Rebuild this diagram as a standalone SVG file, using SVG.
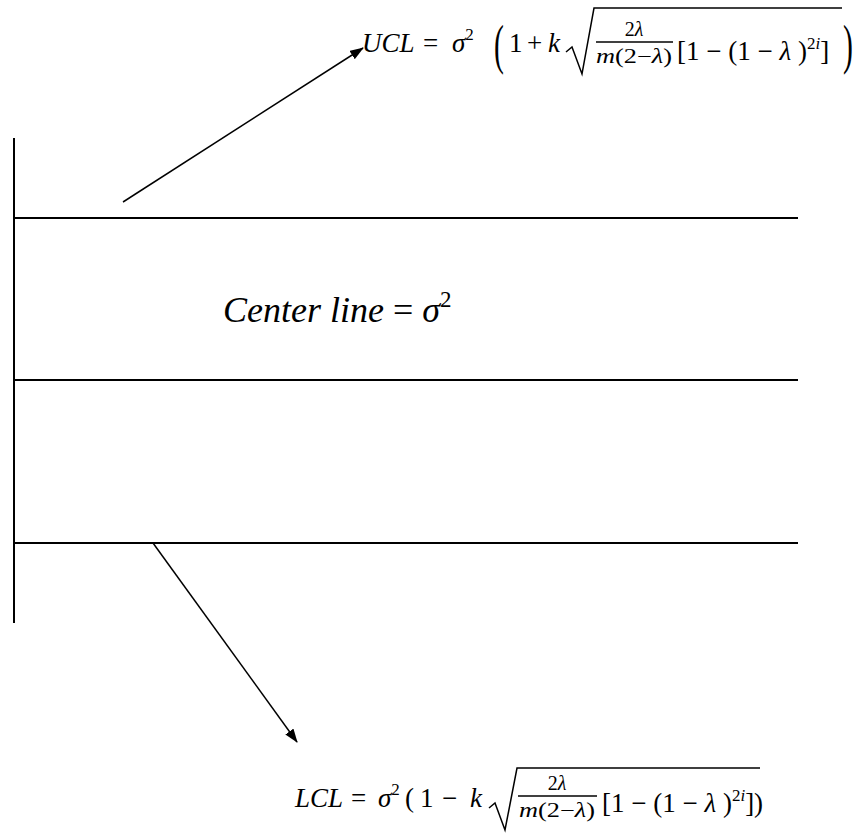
<svg xmlns="http://www.w3.org/2000/svg" width="861" height="833" viewBox="0 0 861 833">
<defs>
<style>
.ln{stroke:#000;stroke-width:2;fill:none}
.ar{stroke:#000;stroke-width:1.5;fill:none}
.t{font-family:"Liberation Serif","DejaVu Serif",serif;fill:#000}
.i{font-style:italic}
.m{font-size:27px}
.f{font-size:20px}
.s{font-size:17px}
.bp{font-size:54px}
</style>
<marker id="ah" viewBox="0 0 14 10" refX="13" refY="5" markerWidth="14" markerHeight="10" markerUnits="userSpaceOnUse" orient="auto">
<path d="M0,0 L14,5 L0,10 z" fill="#000"/>
</marker>
</defs>
<g id="axes">
<line class="ln" x1="14" y1="138" x2="14" y2="623"/>
<line class="ln" x1="14" y1="218" x2="798" y2="218"/>
<line class="ln" x1="14" y1="380" x2="798" y2="380"/>
<line class="ln" x1="14" y1="543" x2="798" y2="543"/>
</g>
<g id="connectors">
<line class="ar" x1="123" y1="202" x2="363" y2="48" marker-end="url(#ah)"/>
<line class="ar" x1="153" y1="543" x2="297" y2="742" marker-end="url(#ah)"/>
</g>
<g id="ucl">
<text class="t m" y="52"><tspan class="i" x="362">UCL</tspan><tspan x="423">=</tspan><tspan class="i" x="452">σ</tspan><tspan class="s" dy="-12">2</tspan></text>
<text class="t bp" transform="translate(494,63) scale(0.55,1)">(</text>
<text class="t m" y="52"><tspan x="509">1</tspan><tspan x="527">+</tspan><tspan class="i" x="548">k</tspan></text>
<path class="ar" d="M566,52 L572,47 L582,74 L594,8 L842,8"/>
<text class="t f" text-anchor="middle" x="634" y="36">2<tspan class="i">λ</tspan></text>
<line class="ar" x1="596" y1="42" x2="673" y2="42"/>
<text class="t f" x="596" y="63" textLength="76" lengthAdjust="spacingAndGlyphs"><tspan class="i">m</tspan>(2−<tspan class="i">λ</tspan>)</text>
<text class="t m" x="677" y="60">[1 − (1 − <tspan class="i">λ</tspan> )<tspan class="s" dy="-11">2<tspan class="i">i</tspan></tspan><tspan dy="11">]</tspan></text>
<text class="t bp" transform="translate(843,63) scale(0.55,1)">)</text>
</g>
<g id="center">
<text class="t" x="223" y="322" font-size="36"><tspan class="i">Center line</tspan> = <tspan class="i">σ</tspan><tspan font-size="23" dy="-15">2</tspan></text>
</g>
<g id="lcl">
<text class="t m" y="807"><tspan class="i" x="295">LCL</tspan><tspan x="351">=</tspan><tspan class="i" x="378">σ</tspan><tspan class="s" dy="-12">2</tspan><tspan x="405" dy="12">(</tspan><tspan x="420">1</tspan><tspan x="442">−</tspan><tspan class="i" x="470">k</tspan></text>
<path class="ar" d="M489,808 L495,803 L505,830 L517,768 L760,768"/>
<text class="t f" text-anchor="middle" x="557" y="790">2<tspan class="i">λ</tspan></text>
<line class="ar" x1="518" y1="796" x2="597" y2="796"/>
<text class="t f" x="519" y="817" textLength="76" lengthAdjust="spacingAndGlyphs"><tspan class="i">m</tspan>(2−<tspan class="i">λ</tspan>)</text>
<text class="t m" x="602" y="812">[1 − (1 − <tspan class="i">λ</tspan> )<tspan class="s" dy="-11">2<tspan class="i">i</tspan></tspan><tspan dy="11">])</tspan></text>
</g>
</svg>
